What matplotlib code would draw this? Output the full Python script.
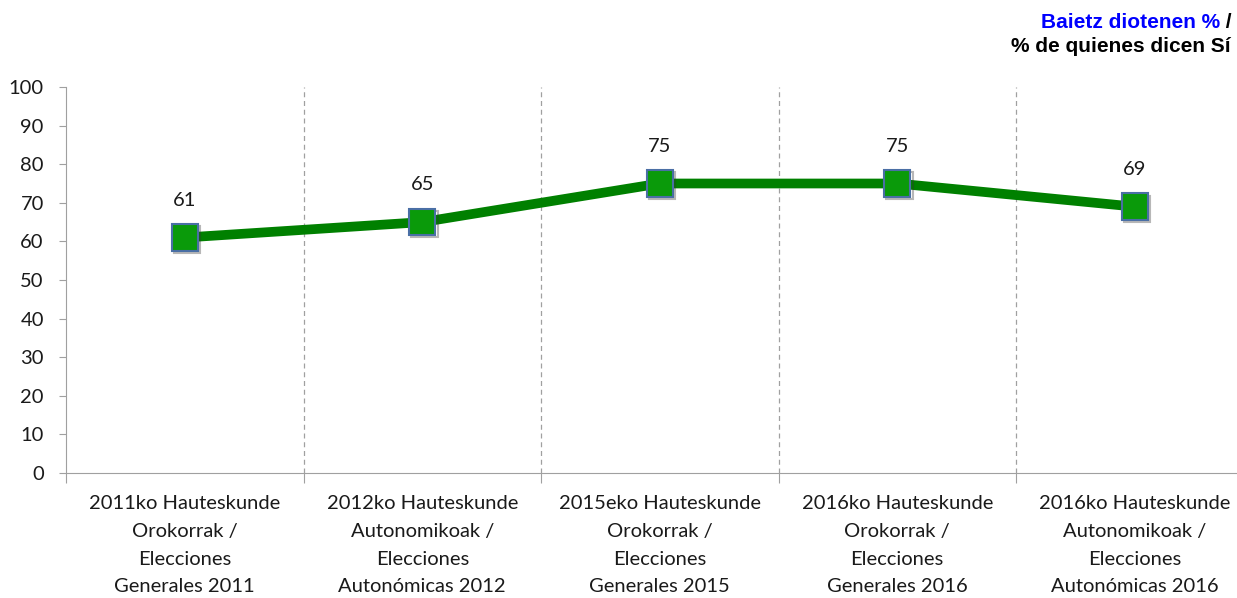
import matplotlib.pyplot as plt
import matplotlib.patheffects as pe

# Data
categories = [
    '2011ko Hauteskunde\nOrokorrak /\nElecciones\nGenerales 2011',
    '2012ko Hauteskunde\nAutonomikoak /\nElecciones\nAutonómicas 2012',
    '2015eko Hauteskunde\nOrokorrak /\nElecciones\nGenerales 2015',
    '2016ko Hauteskunde\nOrokorrak /\nElecciones\nGenerales 2016',
    '2016ko Hauteskunde\nAutonomikoak /\nElecciones\nAutonómicas 2016',
]
values = [61, 65, 75, 75, 69]
yticks = [0, 10, 20, 30, 40, 50, 60, 70, 80, 90, 100]

W, H = 1237, 598
fig = plt.figure(figsize=(W / 100, H / 100), dpi=100)
ax = fig.add_axes([66 / W, (H - 473) / H, 1187.5 / W, 386 / H])

txt = '#1a1a1a'
x = list(range(len(values)))
shadow = [pe.SimpleLineShadow(offset=(1.5, -1.5), alpha=0.35, shadow_color='#333333'), pe.Normal()]
ax.plot(x, values, color='#008000', linewidth=7, solid_capstyle='butt', zorder=3)
ax.plot(x, values, linestyle='none', marker='s', markersize=19,
        markerfacecolor='#0a9a0a', markeredgecolor='#4a6fa5',
        markeredgewidth=1.5, zorder=4, path_effects=shadow)

# value labels above the markers
for xi, v in zip(x, values):
    ax.annotate(str(v), (xi, v), xytext=(0, 27), textcoords='offset points',
                ha='center', va='center', fontsize=14.5, color=txt,
                family='Lato')

ax.set_xlim(-0.5, len(values) - 0.5)
ax.set_ylim(0, 100)
ax.set_yticks(yticks)
ax.set_yticklabels([str(t) for t in yticks], fontsize=14.5, color=txt, family='Lato')

# category boundaries: dashed gridlines and outward ticks
bounds = [i + 0.5 for i in range(len(values) - 1)]
for b in bounds:
    ax.axvline(b, color='#a0a0a0', linestyle=(0, (4, 3)), linewidth=0.9, zorder=1)
ax.set_xticks([-0.5] + bounds)
ax.set_xticklabels([])
ax.set_xticks(x, minor=True)
ax.set_xticklabels(categories, minor=True, fontsize=14.5, color=txt,
                   family='Lato', linespacing=1.76)
ax.tick_params(axis='x', which='minor', length=0, pad=16)
ax.tick_params(axis='x', which='major', length=7, color='#a0a0a0', direction='out')
ax.tick_params(axis='y', length=5, color='#a0a0a0', pad=11)

for s in ['top', 'right']:
    ax.spines[s].set_visible(False)
for s in ['left', 'bottom']:
    ax.spines[s].set_color('#a0a0a0')

# title in the top right corner
slash = fig.text(1232 / W, 1 - 22 / H, ' /', color='black', ha='right',
                 va='center', fontsize=15, fontweight='bold', family='Liberation Sans')
ax.annotate('Baietz diotenen %', xy=(0, 0.5), xycoords=slash, ha='right', va='center',
            color='#0000ff', fontsize=15, fontweight='bold', family='Liberation Sans',
            annotation_clip=False)
fig.text(1231 / W, 1 - 47 / H, '% de quienes dicen Sí', color='black', ha='right',
         va='center', fontsize=15, fontweight='bold', family='Liberation Sans')

fig.savefig('out.png', dpi=100)
